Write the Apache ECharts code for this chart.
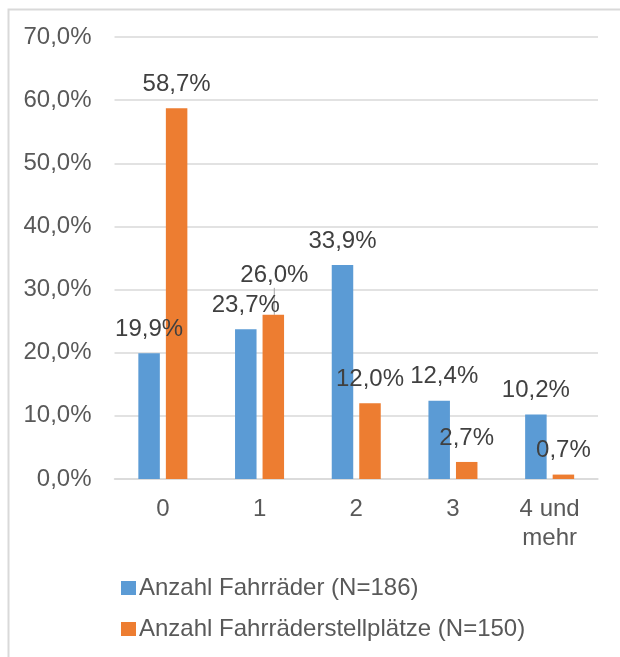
<!DOCTYPE html>
<html>
<head>
<meta charset="utf-8">
<script src="https://cdn.jsdelivr.net/npm/echarts@6/dist/echarts.min.js"></script>
<style>
  html, body { margin: 0; padding: 0; background: #fff; }
  #chart { width: 620px; height: 657px; }
</style>
</head>
<body>
<div id="chart"></div>
<script>
// Anzahl Fahrräder / Fahrradstellplätze pro Haushalt (Anteile in %)
const categories = ['0', '1', '2', '3', '4 und\nmehr'];
const seriesNames = ['Anzahl Fahrräder (N=186)', 'Anzahl Fahrräderstellplätze (N=150)'];
const fahrraeder = [19.9, 23.7, 33.9, 12.4, 10.2];
const stellplaetze = [58.7, 26.0, 12.0, 2.7, 0.7];
const yTicks = [0, 10, 20, 30, 40, 50, 60, 70];

const fmtPct = v => v.toFixed(1).replace('.', ',') + '%';
const fontFamily = '"Liberation Sans", Arial, sans-serif';
const FS = 24;

const labelBase = {
  show: true,
  position: 'top',
  distance: 12,
  color: '#404040',
  fontSize: FS,
  fontFamily: fontFamily,
  formatter: p => fmtPct(p.value)
};

// individually nudged data labels
const blueOffsets = { 3: [5, 0] };
const orangeOffsets = { 2: [5, 0], 3: [7, 8] };

const chart = echarts.init(document.getElementById('chart'), null, { renderer: 'canvas' });

chart.setOption({
  animation: false,
  backgroundColor: '#ffffff',
  graphic: [{
    type: 'rect',
    left: 6, top: 7,
    shape: { width: 800, height: 800 },
    style: { fill: 'none', stroke: '#d9d9d9', lineWidth: 2 },
    silent: true
  }],
  grid: { left: 114.5, right: 22, top: 37, bottom: 178 },
  legend: {
    orient: 'vertical',
    left: 116,
    top: 571,
    icon: 'rect',
    itemWidth: 15,
    itemHeight: 14,
    itemGap: 17,
    textStyle: { color: '#595959', fontSize: FS, fontFamily: fontFamily, padding: [0, 0, 0, -2] },
    data: seriesNames
  },
  xAxis: {
    type: 'category',
    data: categories,
    axisLine: { show: true, lineStyle: { color: '#d9d9d9', width: 1.5 } },
    axisTick: { show: false },
    axisLabel: {
      color: '#595959', fontSize: FS, fontFamily: fontFamily,
      margin: 16, lineHeight: 29, interval: 0
    }
  },
  yAxis: {
    type: 'value',
    min: yTicks[0],
    max: yTicks[yTicks.length - 1],
    interval: yTicks[1] - yTicks[0],
    axisLine: { show: false },
    axisTick: { show: false },
    splitLine: { lineStyle: { color: '#d9d9d9', width: 1.5 } },
    axisLabel: {
      color: '#595959', fontSize: FS, fontFamily: fontFamily, margin: 23,
      formatter: v => fmtPct(v)
    }
  },
  series: [
    {
      name: seriesNames[0],
      type: 'bar',
      barWidth: 21.5,
      barGap: '28%',
      itemStyle: { color: '#5b9bd5' },
      label: labelBase,
      data: fahrraeder.map((v, i) => blueOffsets[i]
        ? { value: v, label: { offset: blueOffsets[i] } }
        : v)
    },
    {
      name: seriesNames[1],
      type: 'bar',
      barWidth: 21.5,
      barGap: '28%',
      itemStyle: { color: '#ed7d31' },
      label: labelBase,
      labelLine: { show: false, lineStyle: { color: '#a6a6a6', width: 1 } },
      labelLayout: p => (p.dataIndex === 1 ? { dy: -15, dx: 1 } : {}),
      data: stellplaetze.map((v, i) => {
        if (i === 1) {
          return { value: v, labelLine: { show: true, lineStyle: { color: '#a6a6a6', width: 1 } } };
        }
        return orangeOffsets[i] ? { value: v, label: { offset: orangeOffsets[i] } } : v;
      })
    }
  ]
});
</script>
</body>
</html>
